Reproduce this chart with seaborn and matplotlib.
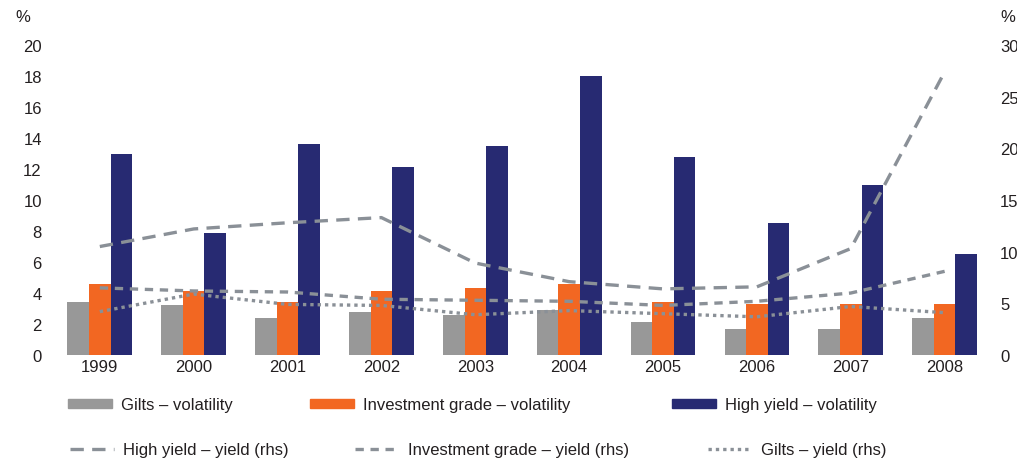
import numpy as np
import pandas as pd
import matplotlib
matplotlib.use("Agg")
import matplotlib.pyplot as plt
import seaborn as sns
from matplotlib.lines import Line2D
from matplotlib.patches import Patch

years = ["1999", "2000", "2001", "2002", "2003", "2004", "2005", "2006", "2007", "2008"]

gilts_vol = [3.4, 3.2, 2.4, 2.8, 2.6, 2.9, 2.1, 1.7, 1.7, 2.4]
ig_vol = [4.6, 4.1, 3.4, 4.1, 4.3, 4.6, 3.4, 3.3, 3.3, 3.3]
hy_vol = [13.0, 7.9, 13.6, 12.1, 13.5, 18.0, 12.8, 8.5, 11.0, 6.5]

hy_yield = [10.5, 12.2, 12.8, 13.3, 8.9, 7.1, 6.4, 6.6, 10.3, 27.4]
ig_yield = [6.5, 6.2, 6.1, 5.4, 5.3, 5.2, 4.8, 5.2, 6.0, 8.1]
gilts_yield = [4.2, 5.9, 4.9, 4.8, 3.9, 4.3, 4.0, 3.7, 4.7, 4.1]

bar_names = ["Gilts – volatility", "Investment grade – volatility", "High yield – volatility"]
line_names = ["High yield – yield (rhs)", "Investment grade – yield (rhs)", "Gilts – yield (rhs)"]

bar_colors = ["#989898", "#F26722", "#272A72"]
line_color = "#8A9097"

sns.set_theme(style="white")
plt.rcParams["font.family"] = ["Liberation Sans", "DejaVu Sans"]
TXT = "#231F20"
FS = 12

df = pd.DataFrame({
    "year": years * 3,
    "value": gilts_vol + ig_vol + hy_vol,
    "series": [bar_names[0]] * len(years) + [bar_names[1]] * len(years) + [bar_names[2]] * len(years),
})

fig = plt.figure(figsize=(10.17, 4.6), dpi=100)
ax = fig.add_axes([0.052, 0.226, 0.923, 0.674])
sns.barplot(data=df, x="year", y="value", hue="series", order=years, hue_order=bar_names,
            palette=bar_colors, width=0.69, saturation=1, ax=ax, legend=False, errorbar=None,
            linewidth=0, edgecolor="none")
ax.set_ylim(0, 20)
ax.set_yticks(range(0, 21, 2))
ax.set_xlim(-0.5, len(years) - 0.5)
ax.set_xlabel("")
ax.set_ylabel("")
for s in ax.spines.values():
    s.set_visible(False)
ax.tick_params(axis="both", length=0, labelsize=FS, colors=TXT)
ax.tick_params(axis="y", pad=8)
ax.tick_params(axis="x", pad=3)

ax2 = ax.twinx()
idx = np.arange(len(years))
styles = [(0, (4, 2.5)), (0, (2.5, 2)), (0, (1, 1.2))]
for vals, ls in zip([hy_yield, ig_yield, gilts_yield], styles):
    sns.lineplot(x=idx, y=vals, ax=ax2, color=line_color, linewidth=2.4, linestyle=ls)
ax2.set_ylim(0, 30)
ax2.set_yticks(range(0, 31, 5))
ax2.set_xlim(-0.5, len(years) - 0.5)
ax2.set_ylabel("")
for s in ax2.spines.values():
    s.set_visible(False)
ax2.tick_params(axis="y", length=0, labelsize=FS, colors=TXT, pad=6)

fig.text(15 / 1017, 1 - 18 / 460, "%", fontsize=FS, color=TXT, ha="left", va="center")
fig.text(1000 / 1017, 1 - 18 / 460, "%", fontsize=FS, color=TXT, ha="left", va="center")

fs_px = FS * 100 / 72.0
entries = [
    (Patch(color=bar_colors[0]), bar_names[0], 68, 406),
    (Patch(color=bar_colors[1]), bar_names[1], 310, 406),
    (Patch(color=bar_colors[2]), bar_names[2], 672, 406),
    (Line2D([], [], color=line_color, lw=2.4, linestyle=styles[0]), line_names[0], 70, 451),
    (Line2D([], [], color=line_color, lw=2.4, linestyle=styles[1]), line_names[1], 355, 451),
    (Line2D([], [], color=line_color, lw=2.4, linestyle=styles[2]), line_names[2], 708, 451),
]
for h, lab, x, y in entries:
    hl = 44 / fs_px
    leg = fig.legend([h], [lab], loc="center left", bbox_to_anchor=(x / 1017, 1 - y / 460),
                     frameon=False, fontsize=FS, handlelength=hl, handleheight=0.45,
                     handletextpad=0.55, borderpad=0, borderaxespad=0)
    for t in leg.get_texts():
        t.set_color(TXT)

fig.savefig("out.png", dpi=100)
